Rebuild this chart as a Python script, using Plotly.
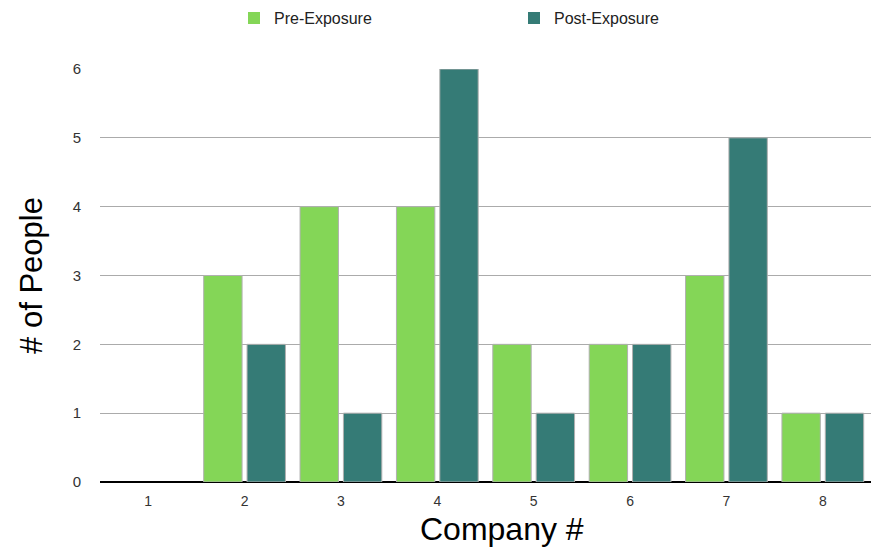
import plotly.graph_objects as go

companies = ["1", "2", "3", "4", "5", "6", "7", "8"]
pre_exposure = [0, 3, 4, 4, 2, 2, 3, 1]
post_exposure = [0, 2, 1, 6, 1, 2, 5, 1]
y_ticks = [0, 1, 2, 3, 4, 5, 6]

FONT = "Liberation Sans, Arial, Helvetica, sans-serif"

def outline_widths(values):
    return [1 if v > 0 else 0 for v in values]

fig = go.Figure()
fig.add_trace(go.Bar(x=companies, y=pre_exposure, name="Pre-Exposure",
                     marker=dict(color="#84d657",
                                 line=dict(color="#b0b0b0", width=outline_widths(pre_exposure)))))
fig.add_trace(go.Bar(x=companies, y=post_exposure, name="Post-Exposure",
                     marker=dict(color="#357b76",
                                 line=dict(color="#b0b0b0", width=outline_widths(post_exposure)))))

fig.update_layout(
    width=880, height=553,
    margin=dict(l=100, r=9, t=69, b=71),
    plot_bgcolor="white", paper_bgcolor="white",
    barmode="group", bargap=0.1, bargroupgap=0.115,
    font=dict(family=FONT, color="#222222", size=14),
    showlegend=True,
    legend=dict(orientation="h", x=(234 - 100) / 771, xanchor="left", y=0.998, yanchor="top",
                yref="container", entrywidth=235, entrywidthmode="pixels",
                font=dict(size=16, color="#222222"), itemclick=False),
    annotations=[dict(text="Company #", xref="paper", yref="paper",
                      x=(502 - 100) / 771, y=-0.115, xanchor="center", yanchor="middle",
                      showarrow=False, font=dict(size=32, color="black"))],
)
fig.update_xaxes(
    type="category", showgrid=False, showline=True, linecolor="black", linewidth=1,
    ticks="", tickfont=dict(size=14, color="#333333"), ticklabelstandoff=6,
)
fig.update_yaxes(
    range=[0, 6], tickvals=y_ticks, showgrid=True, gridcolor="#ababab", gridwidth=1,
    zeroline=True, zerolinecolor="black", zerolinewidth=1.5,
    ticks="", tickfont=dict(size=15, color="#333333"), ticklabelstandoff=18,
    title=dict(text="# of People", font=dict(size=31, color="black"), standoff=20),
)

fig.write_html("out.html")
